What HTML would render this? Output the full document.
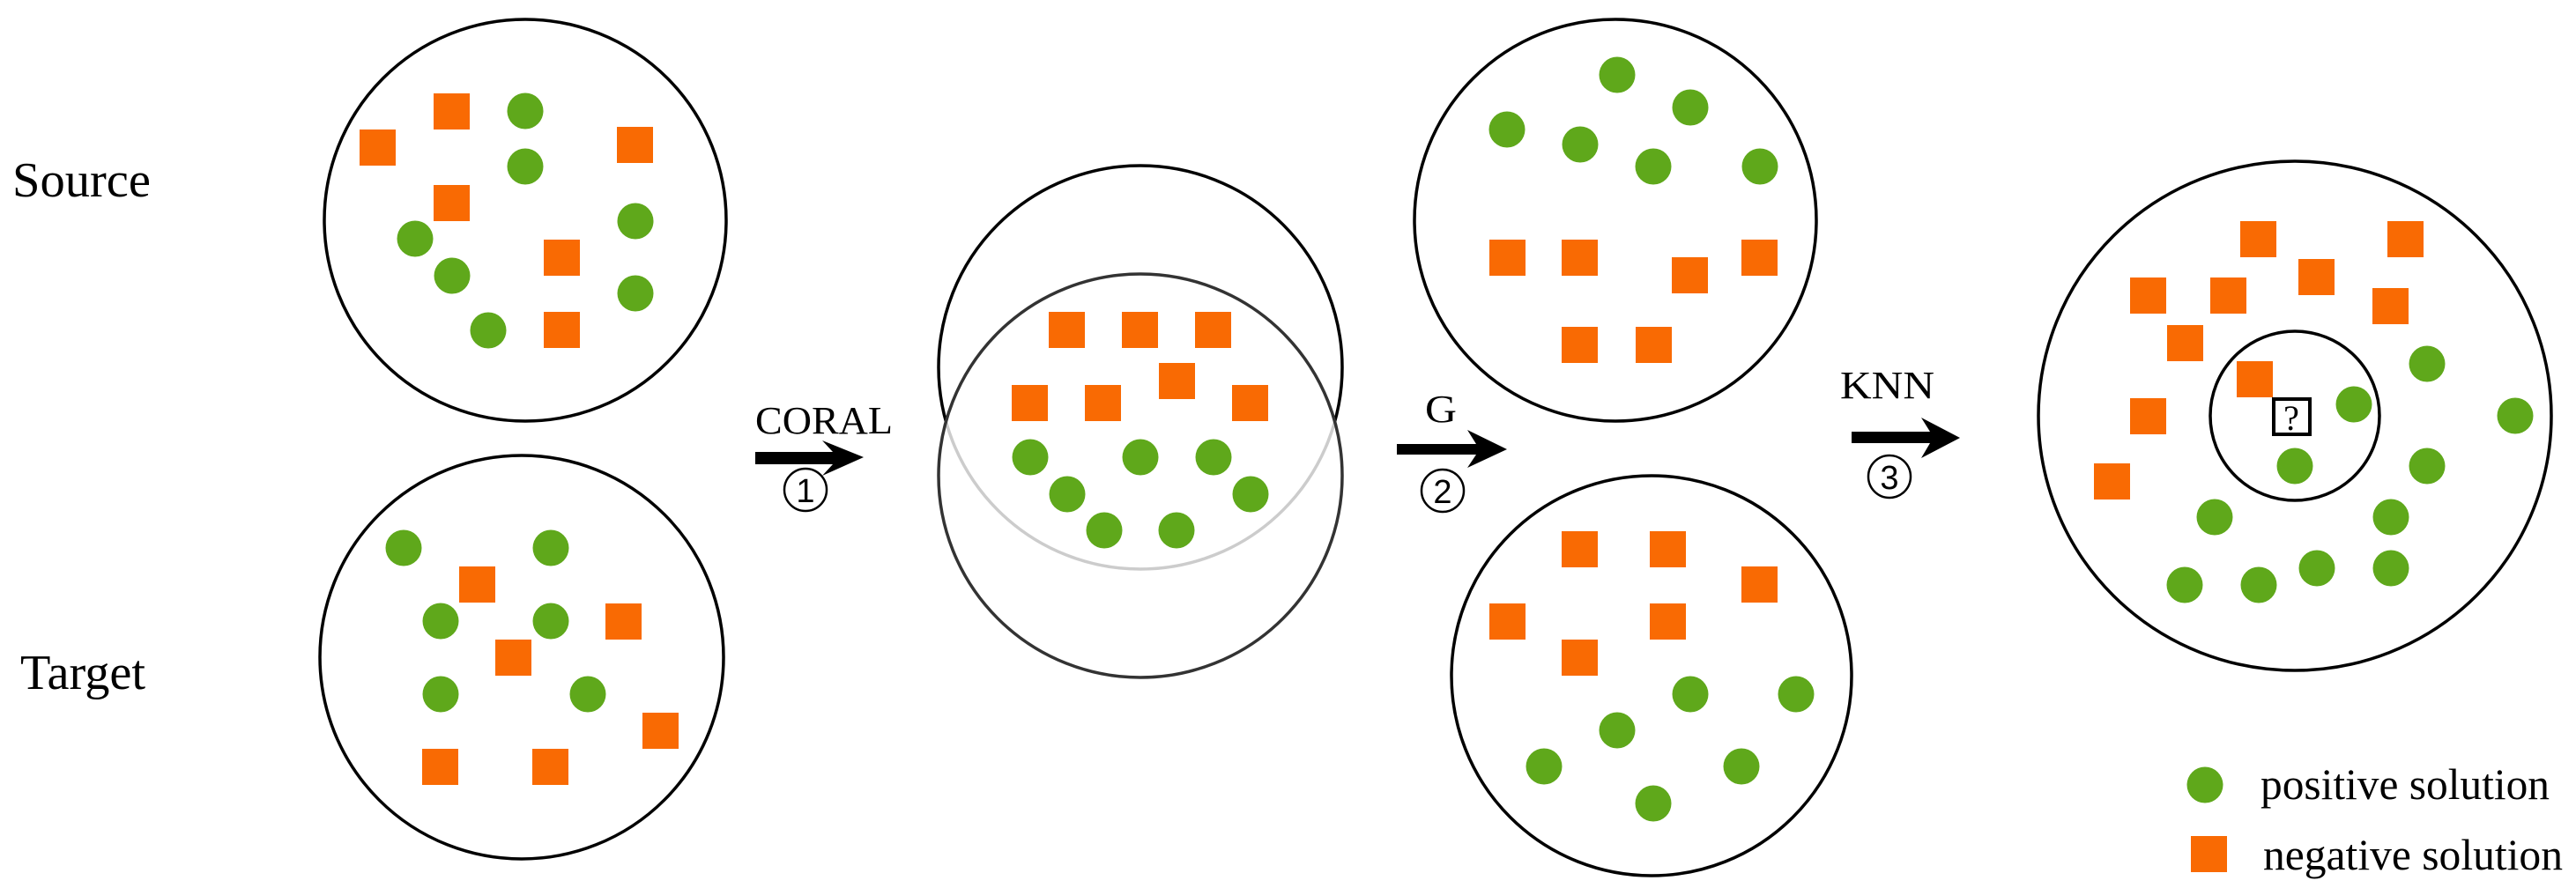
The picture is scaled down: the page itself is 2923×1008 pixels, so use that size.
<!DOCTYPE html>
<html><head><meta charset="utf-8"><style>html,body{margin:0;padding:0;background:#fff}svg{display:block}</style></head>
<body>
<svg width="2923" height="1008" viewBox="0 0 2923 1008" xmlns="http://www.w3.org/2000/svg" font-family="Liberation Serif, serif">
<g fill="none" stroke="#000" stroke-width="3.5">
<circle cx="596" cy="250" r="228"/>
<circle cx="592" cy="746" r="229"/>
<circle cx="1294" cy="417" r="229"/>
</g>
<circle cx="1294" cy="540" r="229" fill="#fff" fill-opacity="0.8" stroke="#333" stroke-width="3.5"/>
<g fill="none" stroke="#000" stroke-width="3.5">
<circle cx="1833" cy="250" r="228"/>
<circle cx="1874" cy="767" r="227"/>
<ellipse cx="2604" cy="472" rx="291" ry="289"/>
<circle cx="2604" cy="472" r="96"/>
</g>
<g fill="#f96a03">
<rect x="408" y="147" width="41" height="41"/><rect x="492" y="106" width="41" height="41"/><rect x="492" y="210" width="41" height="41"/><rect x="700" y="144" width="41" height="41"/><rect x="617" y="272" width="41" height="41"/><rect x="617" y="354" width="41" height="41"/>
<rect x="521" y="643" width="41" height="41"/><rect x="687" y="685" width="41" height="41"/><rect x="562" y="726" width="41" height="41"/><rect x="729" y="809" width="41" height="41"/><rect x="479" y="850" width="41" height="41"/><rect x="604" y="850" width="41" height="41"/>
<rect x="1190" y="354" width="41" height="41"/><rect x="1273" y="354" width="41" height="41"/><rect x="1356" y="354" width="41" height="41"/><rect x="1315" y="412" width="41" height="41"/><rect x="1148" y="437" width="41" height="41"/><rect x="1231" y="437" width="41" height="41"/><rect x="1398" y="437" width="41" height="41"/>
<rect x="1690" y="272" width="41" height="41"/><rect x="1772" y="272" width="41" height="41"/><rect x="1897" y="292" width="41" height="41"/><rect x="1976" y="272" width="41" height="41"/><rect x="1772" y="371" width="41" height="41"/><rect x="1856" y="371" width="41" height="41"/>
<rect x="1772" y="603" width="41" height="41"/><rect x="1872" y="603" width="41" height="41"/><rect x="1976" y="643" width="41" height="41"/><rect x="1690" y="685" width="41" height="41"/><rect x="1872" y="685" width="41" height="41"/><rect x="1772" y="726" width="41" height="41"/>
<rect x="2542" y="251" width="41" height="41"/><rect x="2709" y="251" width="41" height="41"/><rect x="2608" y="294" width="41" height="41"/><rect x="2417" y="315" width="41" height="41"/><rect x="2508" y="315" width="41" height="41"/><rect x="2692" y="327" width="41" height="41"/><rect x="2459" y="369" width="41" height="41"/><rect x="2538" y="410" width="41" height="41"/><rect x="2417" y="452" width="41" height="41"/><rect x="2376" y="526" width="41" height="41"/>
<rect x="2486" y="949" width="41" height="41"/>
</g>
<g fill="#5fa81b">
<circle cx="596" cy="126" r="20.5"/><circle cx="596" cy="189" r="20.5"/><circle cx="471" cy="271" r="20.5"/><circle cx="513" cy="313" r="20.5"/><circle cx="554" cy="375" r="20.5"/><circle cx="721" cy="251" r="20.5"/><circle cx="721" cy="333" r="20.5"/>
<circle cx="458" cy="622" r="20.5"/><circle cx="625" cy="622" r="20.5"/><circle cx="500" cy="705" r="20.5"/><circle cx="625" cy="705" r="20.5"/><circle cx="500" cy="788" r="20.5"/><circle cx="667" cy="788" r="20.5"/>
<circle cx="1169" cy="519" r="20.5"/><circle cx="1294" cy="519" r="20.5"/><circle cx="1377" cy="519" r="20.5"/><circle cx="1211" cy="561" r="20.5"/><circle cx="1419" cy="561" r="20.5"/><circle cx="1253" cy="602" r="20.5"/><circle cx="1335" cy="602" r="20.5"/>
<circle cx="1835" cy="85" r="20.5"/><circle cx="1918" cy="122" r="20.5"/><circle cx="1710" cy="147" r="20.5"/><circle cx="1793" cy="164" r="20.5"/><circle cx="1876" cy="189" r="20.5"/><circle cx="1997" cy="189" r="20.5"/>
<circle cx="1918" cy="788" r="20.5"/><circle cx="1835" cy="829" r="20.5"/><circle cx="1752" cy="870" r="20.5"/><circle cx="1876" cy="912" r="20.5"/><circle cx="1976" cy="870" r="20.5"/><circle cx="2038" cy="788" r="20.5"/>
<circle cx="2754" cy="413" r="20.5"/><circle cx="2671" cy="459" r="20.5"/><circle cx="2854" cy="472" r="20.5"/><circle cx="2604" cy="529" r="20.5"/><circle cx="2754" cy="529" r="20.5"/><circle cx="2513" cy="587" r="20.5"/><circle cx="2713" cy="587" r="20.5"/><circle cx="2479" cy="664" r="20.5"/><circle cx="2563" cy="664" r="20.5"/><circle cx="2629" cy="645" r="20.5"/><circle cx="2713" cy="645" r="20.5"/>
<circle cx="2502" cy="891" r="20.5"/>
</g>
<rect x="2580" y="453" width="41" height="40" fill="#fff" stroke="#000" stroke-width="4"/>
<text x="2600" y="488" font-size="40" text-anchor="middle">?</text>
<g fill="#000">
<path d="M857,513 L945,513 L933,500 L980,519 L933,540 L945,527 L857,527 Z"/>
<path d="M1585,504 L1675,504 L1665,488 L1710,510 L1665,531 L1675,516 L1585,516 Z"/>
<path d="M2101,490 L2190,490 L2180,474 L2224,497 L2180,520 L2190,503 L2101,503 Z"/>
</g>
<g fill="none" stroke="#000" stroke-width="2.5">
<circle cx="914" cy="556" r="24"/>
<circle cx="1637" cy="557" r="24"/>
<circle cx="2144" cy="541" r="24"/>
</g>
<g font-family="Liberation Sans, sans-serif" font-size="38" text-anchor="middle">
<text x="914" y="570">1</text>
<text x="1637" y="571">2</text>
<text x="2144" y="555">3</text>
</g>
<g font-size="56">
<text x="14" y="223" textLength="157" lengthAdjust="spacingAndGlyphs">Source</text>
<text x="23" y="782" textLength="142" lengthAdjust="spacingAndGlyphs">Target</text>
</g>
<g font-size="44">
<text x="857" y="492" textLength="156" lengthAdjust="spacingAndGlyphs">CORAL</text>
<text x="1617" y="479" textLength="36" lengthAdjust="spacingAndGlyphs">G</text>
<text x="2088" y="452" textLength="107" lengthAdjust="spacingAndGlyphs">KNN</text>
</g>
<g font-size="50">
<text x="2565" y="907" textLength="328" lengthAdjust="spacingAndGlyphs">positive solution</text>
<text x="2568" y="987" textLength="340" lengthAdjust="spacingAndGlyphs">negative solution</text>
</g>
</svg>
</body></html>
